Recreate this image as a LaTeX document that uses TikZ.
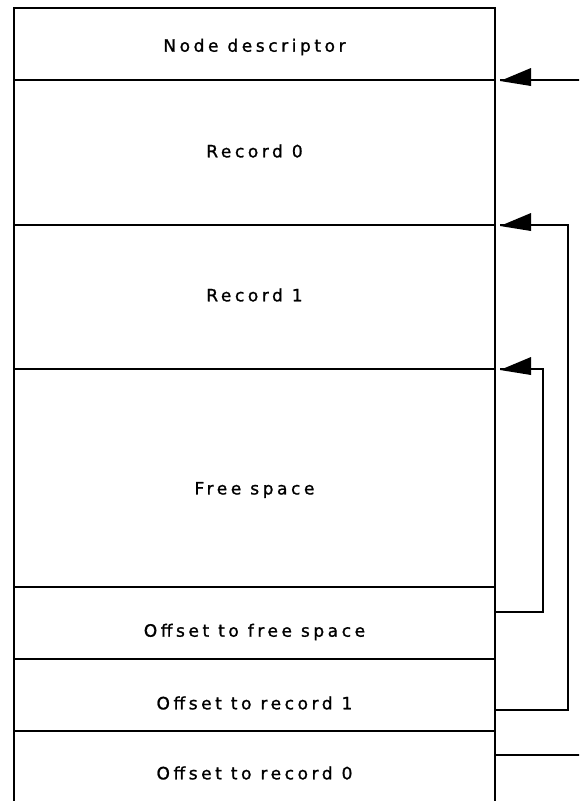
\documentclass[tikz,border=0pt]{standalone}
\usepackage{fontspec}
\setmainfont{DejaVu Sans}[LetterSpace=21, FakeBold=1.2]
\begin{document}
\begin{tikzpicture}[x=1pt,y=-1pt,
  frame/.style={line width=1.8pt},
  conn/.style={line width=1.8pt},
  field/.style={font=\fontsize{17}{20}\selectfont, inner sep=0pt, anchor=center},
  head/.pic={\fill (0,1) -- (31,-12) -- (31,6) -- cycle;}]
\useasboundingbox (0,0) rectangle (579,801);
\clip (0,0) rectangle (579,801);

% the record layout: outer frame and the dividing lines
\draw[frame] (14,830) -- (14,8) -- (495,8) -- (495,830);
\foreach \y/\n in {80/d0,225/d1,369/d2,587/d3,659/d4,731/d5} {
  \draw[frame] (14,\y) -- (495,\y);
  \coordinate (\n) at (495,\y);
}

% field labels
\node[field] (nd)  at (254.5,47)  {Node descriptor};
\node[field] (r0)  at (254.5,151) {Record 0};
\node[field] (r1)  at (254.5,295) {Record 1};
\node[field] (fs)  at (254.5,490) {Free space};
\node[field] (ofs) at (254.5,632) {Offset to free space};
\node[field] (or1) at (254.5,703) {Offset to record 1};
\node[field] (or0) at (254.5,773) {Offset to record 0};

% connector end points on the right edge
\coordinate (t0) at (500,80);
\coordinate (t1) at (500,225);
\coordinate (t2) at (500,369);
\coordinate (s2) at (495,612);
\coordinate (s1) at (495,710);
\coordinate (s0) at (495,755);
\coordinate (in0) at (600,80);
\coordinate (out0) at (600,755);

% offsets pointing back at the records
\draw[conn] (s2) -- ++(48,0) |- (t2);
\draw[conn] (s1) -- ++(73,0) |- (t1);
\draw[conn] (s0) -- (out0);
\draw[conn] (in0) -- (t0);
\pic at (t0) {head};
\pic at (t1) {head};
\pic at (t2) {head};
\end{tikzpicture}
\end{document}
